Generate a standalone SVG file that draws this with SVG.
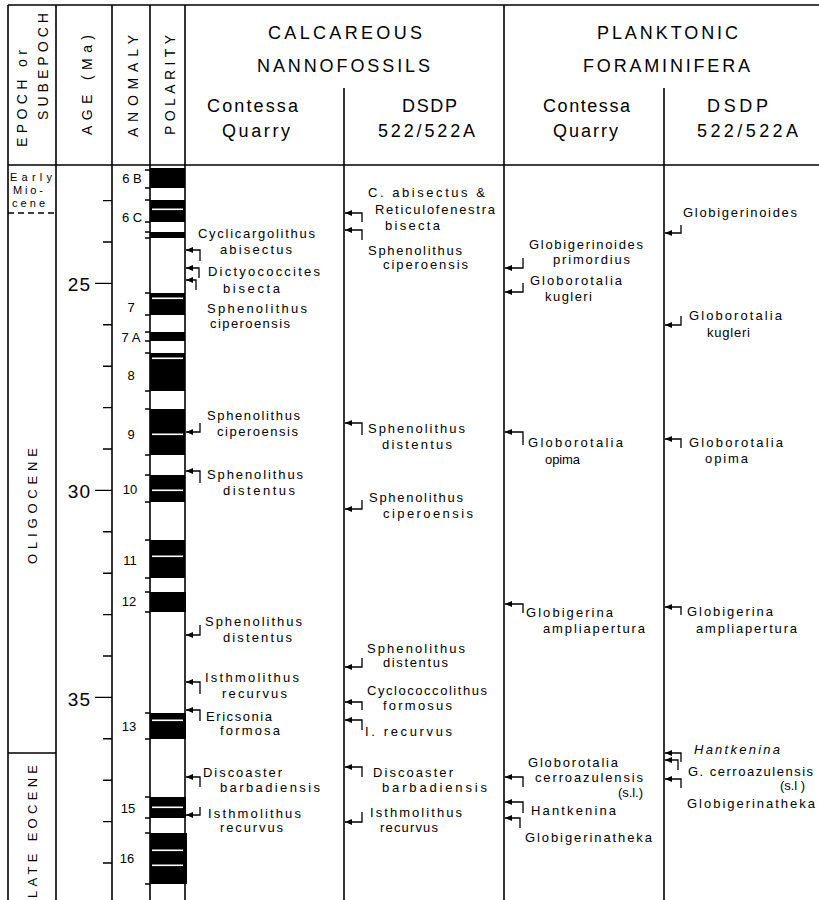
<svg xmlns="http://www.w3.org/2000/svg" width="819" height="900" viewBox="0 0 819 900">
<style>
.ln{stroke:#000;stroke-width:1.6;fill:none}
.tk{stroke:#000;stroke-width:1.4;fill:none}
.t{font-family:"Liberation Sans",Arial,sans-serif;font-size:13px;fill:#000}
.hd{font-size:18px}
.rh{font-size:14px}
.age{font-size:19px}
.an{font-size:13px;text-anchor:middle}
.ep{font-size:11px}
.arr{stroke:#000;stroke-width:1.3;fill:none;marker-start:url(#ah)}
.blk{fill:#000}
.wl{fill:#fff}
</style>
<defs>
<marker id="ah" viewBox="0 0 10 10" refX="10" refY="5" markerWidth="7" markerHeight="6" markerUnits="userSpaceOnUse" orient="auto-start-reverse" preserveAspectRatio="none"><path d="M0,0 L10,5 L0,10 z" fill="#000"/></marker>
</defs>
<rect width="819" height="900" fill="#fff"/>

<g id="frame">
<line class="ln" x1="8" y1="5" x2="819" y2="5"/>
<line class="ln" x1="8" y1="165" x2="819" y2="165"/>
<line class="ln" x1="8" y1="5" x2="8" y2="900"/>
<line class="ln" x1="56" y1="5" x2="56" y2="900"/>
<line class="ln" x1="112" y1="5" x2="112" y2="900"/>
<line class="ln" x1="150" y1="5" x2="150" y2="900"/>
<line class="ln" x1="185" y1="5" x2="185" y2="900"/>
<line class="ln" x1="344" y1="88" x2="344" y2="900"/>
<line class="ln" x1="504" y1="5" x2="504" y2="900"/>
<line class="ln" x1="664" y1="88" x2="664" y2="900"/>
<line class="ln" x1="8" y1="213" x2="56" y2="213" stroke-dasharray="6,4"/>
<line class="ln" x1="8" y1="753" x2="56" y2="753"/>
</g>

<g id="headers">
<text class="t rh" transform="translate(27,147) rotate(-90)" textLength="97" lengthAdjust="spacing">EPOCH or</text>
<text class="t rh" transform="translate(48,120) rotate(-90)" textLength="107" lengthAdjust="spacing">SUBEPOCH</text>
<text class="t rh" transform="translate(92,135) rotate(-90)" textLength="100" lengthAdjust="spacing">AGE (Ma)</text>
<text class="t rh" transform="translate(138,137) rotate(-90)" textLength="102" lengthAdjust="spacing">ANOMALY</text>
<text class="t rh" transform="translate(175,135) rotate(-90)" textLength="100" lengthAdjust="spacing">POLARITY</text>
<text class="t hd" x="268" y="39" textLength="154" lengthAdjust="spacing">CALCAREOUS</text>
<text class="t hd" x="257" y="72" textLength="173" lengthAdjust="spacing">NANNOFOSSILS</text>
<text class="t hd" x="207" y="112" textLength="91" lengthAdjust="spacing">Contessa</text>
<text class="t hd" x="222" y="137" textLength="68" lengthAdjust="spacing">Quarry</text>
<text class="t hd" x="402" y="112" textLength="55" lengthAdjust="spacing">DSDP</text>
<text class="t hd" x="378" y="137" textLength="97" lengthAdjust="spacing">522/522A</text>
<text class="t hd" x="597" y="39" textLength="141" lengthAdjust="spacing">PLANKTONIC</text>
<text class="t hd" x="583" y="72" textLength="167" lengthAdjust="spacing">FORAMINIFERA</text>
<text class="t hd" x="543" y="112" textLength="87" lengthAdjust="spacing">Contessa</text>
<text class="t hd" x="553" y="137" textLength="65" lengthAdjust="spacing">Quarry</text>
<text class="t hd" x="707" y="112" textLength="61" lengthAdjust="spacing">DSDP</text>
<text class="t hd" x="697" y="137" textLength="101" lengthAdjust="spacing">522/522A</text>
</g>

<g id="epochs">
<text class="t ep" x="10" y="181" textLength="42" lengthAdjust="spacing">Early</text>
<text class="t ep" x="13" y="194" textLength="30" lengthAdjust="spacing">Mio-</text>
<text class="t ep" x="12" y="207" textLength="33" lengthAdjust="spacing">cene</text>
<text class="t" transform="translate(37,564) rotate(-90)" textLength="116" lengthAdjust="spacing">OLIGOCENE</text>
<text class="t" transform="translate(37,898) rotate(-90)" textLength="133" lengthAdjust="spacing">LATE EOCENE</text>
</g>

<g id="age-scale">
<path class="tk" d="M103,200.6H112M103,242H112M95,283.4H112M103,324.8H112M103,366.2H112M103,407.6H112M103,449H112M95,490.4H112M103,531.8H112M103,573.2H112M103,614.6H112M103,656H112M95,697.4H112M103,738.8H112M103,780.2H112M103,821.6H112M103,863H112"/>
<text class="t age" x="91" y="291" text-anchor="end" letter-spacing="1">25</text>
<text class="t age" x="91" y="498" text-anchor="end" letter-spacing="1">30</text>
<text class="t age" x="91" y="706" text-anchor="end" letter-spacing="1">35</text>
</g>

<g id="anomalies">
<text class="t an" x="132" y="183">6 B</text>
<text class="t an" x="132" y="222">6 C</text>
<text class="t an" x="131" y="312">7</text>
<text class="t an" x="131" y="342">7 A</text>
<text class="t an" x="131" y="380">8</text>
<text class="t an" x="131" y="439">9</text>
<text class="t an" x="130" y="494">10</text>
<text class="t an" x="130" y="565">11</text>
<text class="t an" x="129" y="606">12</text>
<text class="t an" x="129" y="731">13</text>
<text class="t an" x="128" y="813">15</text>
<text class="t an" x="127" y="863">16</text>
<path class="tk" d="M145,170H150M145,188H150M145,200H150M145,222H150M145,232H150M145,238H150M145,293H150M145,315H150M145,332H150M145,341H150M145,353H150M145,391H150M145,409H150M145,455H150M145,475H150M145,502H150M145,540H150M145,578H150M145,592H150M145,612H150M145,713H150M145,739H150M145,797H150M145,818H150M145,833H150M145,884H150"/>
</g>

<g id="polarity">
<rect class="blk" x="150" y="168" width="35" height="20"/>
<rect class="blk" x="150" y="200" width="35" height="22"/>
<rect class="blk" x="150" y="232" width="35" height="6"/>
<rect class="blk" x="150" y="293" width="35" height="22"/>
<rect class="blk" x="150" y="332" width="35" height="9"/>
<rect class="blk" x="150" y="353" width="35" height="38"/>
<rect class="blk" x="150" y="409" width="35" height="46"/>
<rect class="blk" x="150" y="475" width="35" height="27"/>
<rect class="blk" x="150" y="540" width="35" height="38"/>
<rect class="blk" x="150" y="592" width="36" height="20"/>
<rect class="blk" x="150" y="713" width="36" height="26"/>
<rect class="blk" x="150" y="797" width="36" height="21"/>
<rect class="blk" x="150" y="833" width="37" height="51"/>
<rect class="wl" x="152" y="208.5" width="31" height="1.6"/>
<rect class="wl" x="152" y="297.5" width="31" height="1.6"/>
<rect class="wl" x="152" y="357.5" width="31" height="1.6"/>
<rect class="wl" x="152" y="433.5" width="31" height="1.6"/>
<rect class="wl" x="152" y="489.5" width="31" height="1.6"/>
<rect class="wl" x="152" y="555.5" width="31" height="1.6"/>
<rect class="wl" x="152" y="719.5" width="31" height="1.6"/>
<rect class="wl" x="152" y="806.5" width="31" height="1.6"/>
<rect class="wl" x="152" y="849.5" width="31" height="1.6"/>
<rect class="wl" x="152" y="864.5" width="31" height="1.6"/>
</g>

<g id="connectors">
<path class="arr" d="M186,250H200V261"/>
<path class="arr" d="M186,268H199V278"/>
<path class="arr" d="M186,280H196V290"/>
<path class="arr" d="M186,432H200V423"/>
<path class="arr" d="M186,471H200V483"/>
<path class="arr" d="M186,635H200V625"/>
<path class="arr" d="M186,682H200V694"/>
<path class="arr" d="M186,710H200V721"/>
<path class="arr" d="M186,777H200V787"/>
<path class="arr" d="M186,815H200V807"/>

<path class="arr" d="M345,213H362V222"/>
<path class="arr" d="M345,230H362V240"/>
<path class="arr" d="M345,423H362V435"/>
<path class="arr" d="M345,509H362V500"/>
<path class="arr" d="M345,667H362V658"/>
<path class="arr" d="M345,702H362V710"/>
<path class="arr" d="M345,720H362V730"/>
<path class="arr" d="M345,767H362V777"/>
<path class="arr" d="M345,822H362V812"/>

<path class="arr" d="M505,268H523V258"/>
<path class="arr" d="M505,292H523V283"/>
<path class="arr" d="M505,432H523V445"/>
<path class="arr" d="M505,604H523V613"/>
<path class="arr" d="M505,777H523V787"/>
<path class="arr" d="M505,802H523V813"/>
<path class="arr" d="M505,818H520V828"/>

<path class="arr" d="M665,233H681V225"/>
<path class="arr" d="M665,325H681V316"/>
<path class="arr" d="M665,439H681V448"/>
<path class="arr" d="M665,607H681V615"/>
<path class="arr" d="M665,753H681V762"/>
<path class="arr" d="M665,760H678V770"/>
<path class="arr" d="M665,779H681V788"/>
</g>

<g id="nanno-contessa">
<g id="nc1"><text class="t" x="198" y="238" textLength="117" lengthAdjust="spacing">Cyclicargolithus</text><text class="t" x="220" y="254" textLength="72" lengthAdjust="spacing">abisectus</text></g>
<g id="nc2"><text class="t" x="208" y="276" textLength="112" lengthAdjust="spacing">Dictyococcites</text><text class="t" x="223" y="293" textLength="57" lengthAdjust="spacing">bisecta</text></g>
<g id="nc3"><text class="t" x="207" y="313" textLength="100" lengthAdjust="spacing">Sphenolithus</text><text class="t" x="210" y="328" textLength="80" lengthAdjust="spacing">ciperoensis</text></g>
<g id="nc4"><text class="t" x="207" y="420" textLength="93" lengthAdjust="spacing">Sphenolithus</text><text class="t" x="217" y="436" textLength="81" lengthAdjust="spacing">ciperoensis</text></g>
<g id="nc5"><text class="t" x="207" y="479" textLength="96" lengthAdjust="spacing">Sphenolithus</text><text class="t" x="223" y="495" textLength="72" lengthAdjust="spacing">distentus</text></g>
<g id="nc6"><text class="t" x="205" y="626" textLength="97" lengthAdjust="spacing">Sphenolithus</text><text class="t" x="223" y="642" textLength="69" lengthAdjust="spacing">distentus</text></g>
<g id="nc7"><text class="t" x="205" y="682" textLength="94" lengthAdjust="spacing">Isthmolithus</text><text class="t" x="222" y="698" textLength="65" lengthAdjust="spacing">recurvus</text></g>
<g id="nc8"><text class="t" x="206" y="721" textLength="66" lengthAdjust="spacing">Ericsonia</text><text class="t" x="220" y="735" textLength="60" lengthAdjust="spacing">formosa</text></g>
<g id="nc9"><text class="t" x="203" y="777" textLength="79" lengthAdjust="spacing">Discoaster</text><text class="t" x="220" y="792" textLength="100" lengthAdjust="spacing">barbadiensis</text></g>
<g id="nc10"><text class="t" x="208" y="818" textLength="93" lengthAdjust="spacing">Isthmolithus</text><text class="t" x="220" y="832" textLength="63" lengthAdjust="spacing">recurvus</text></g>
</g>

<g id="nanno-dsdp">
<g id="nd1"><text class="t" x="368" y="197" textLength="117" lengthAdjust="spacing">C. abisectus &amp;</text><text class="t" x="375" y="214" textLength="120" lengthAdjust="spacing">Reticulofenestra</text><text class="t" x="385" y="230" textLength="55" lengthAdjust="spacing">bisecta</text></g>
<g id="nd2"><text class="t" x="368" y="255" textLength="94" lengthAdjust="spacing">Sphenolithus</text><text class="t" x="383" y="269" textLength="85" lengthAdjust="spacing">ciperoensis</text></g>
<g id="nd3"><text class="t" x="368" y="433" textLength="97" lengthAdjust="spacing">Sphenolithus</text><text class="t" x="382" y="449" textLength="70" lengthAdjust="spacing">distentus</text></g>
<g id="nd4"><text class="t" x="369" y="502" textLength="94" lengthAdjust="spacing">Sphenolithus</text><text class="t" x="383" y="518" textLength="90" lengthAdjust="spacing">ciperoensis</text></g>
<g id="nd5"><text class="t" x="367" y="653" textLength="98" lengthAdjust="spacing">Sphenolithus</text><text class="t" x="383" y="667" textLength="65" lengthAdjust="spacing">distentus</text></g>
<g id="nd6"><text class="t" x="367" y="695" textLength="120" lengthAdjust="spacing">Cyclococcolithus</text><text class="t" x="383" y="710" textLength="69" lengthAdjust="spacing">formosus</text></g>
<g id="nd7"><text class="t" x="365" y="736" textLength="87" lengthAdjust="spacing">I. recurvus</text></g>
<g id="nd8"><text class="t" x="373" y="777" textLength="80" lengthAdjust="spacing">Discoaster</text><text class="t" x="382" y="792" textLength="105" lengthAdjust="spacing">barbadiensis</text></g>
<g id="nd9"><text class="t" x="370" y="817" textLength="92" lengthAdjust="spacing">Isthmolithus</text><text class="t" x="380" y="832" textLength="58" lengthAdjust="spacing">recurvus</text></g>
</g>

<g id="foram-contessa">
<g id="fc1"><text class="t" x="529" y="249" textLength="114" lengthAdjust="spacing">Globigerinoides</text><text class="t" x="553" y="264" textLength="77" lengthAdjust="spacing">primordius</text></g>
<g id="fc2"><text class="t" x="530" y="285" textLength="92" lengthAdjust="spacing">Globorotalia</text><text class="t" x="545" y="301" textLength="47" lengthAdjust="spacing">kugleri</text></g>
<g id="fc3"><text class="t" x="528" y="447" textLength="95" lengthAdjust="spacing">Globorotalia</text><text class="t" x="545" y="464" textLength="35" lengthAdjust="spacing">opima</text></g>
<g id="fc4"><text class="t" x="526" y="617" textLength="87" lengthAdjust="spacing">Globigerina</text><text class="t" x="543" y="633" textLength="102" lengthAdjust="spacing">ampliapertura</text></g>
<g id="fc5"><text class="t" x="528" y="767" textLength="90" lengthAdjust="spacing">Globorotalia</text><text class="t" x="535" y="782" textLength="108" lengthAdjust="spacing">cerroazulensis</text><text class="t" x="618" y="797" textLength="25" lengthAdjust="spacing">(s.l.)</text></g>
<g id="fc6"><text class="t" x="531" y="815" textLength="85" lengthAdjust="spacing">Hantkenina</text></g>
<g id="fc7"><text class="t" x="525" y="842" textLength="127" lengthAdjust="spacing">Globigerinatheka</text></g>
</g>

<g id="foram-dsdp">
<g id="fd1"><text class="t" x="683" y="217" textLength="114" lengthAdjust="spacing">Globigerinoides</text></g>
<g id="fd2"><text class="t" x="689" y="320" textLength="93" lengthAdjust="spacing">Globorotalia</text><text class="t" x="707" y="337" textLength="43" lengthAdjust="spacing">kugleri</text></g>
<g id="fd3"><text class="t" x="689" y="447" textLength="94" lengthAdjust="spacing">Globorotalia</text><text class="t" x="705" y="463" textLength="43" lengthAdjust="spacing">opima</text></g>
<g id="fd4"><text class="t" x="687" y="616" textLength="86" lengthAdjust="spacing">Globigerina</text><text class="t" x="696" y="633" textLength="101" lengthAdjust="spacing">ampliapertura</text></g>
<g id="fd5"><text class="t" x="694" y="754" textLength="86" lengthAdjust="spacing" font-style="italic">Hantkenina</text></g>
<g id="fd6"><text class="t" x="688" y="776" textLength="125" lengthAdjust="spacing">G. cerroazulensis</text><text class="t" x="780" y="790" textLength="25" lengthAdjust="spacing">(s.l )</text></g>
<g id="fd7"><text class="t" x="687" y="808" textLength="128" lengthAdjust="spacing">Globigerinatheka</text></g>
</g>
</svg>
